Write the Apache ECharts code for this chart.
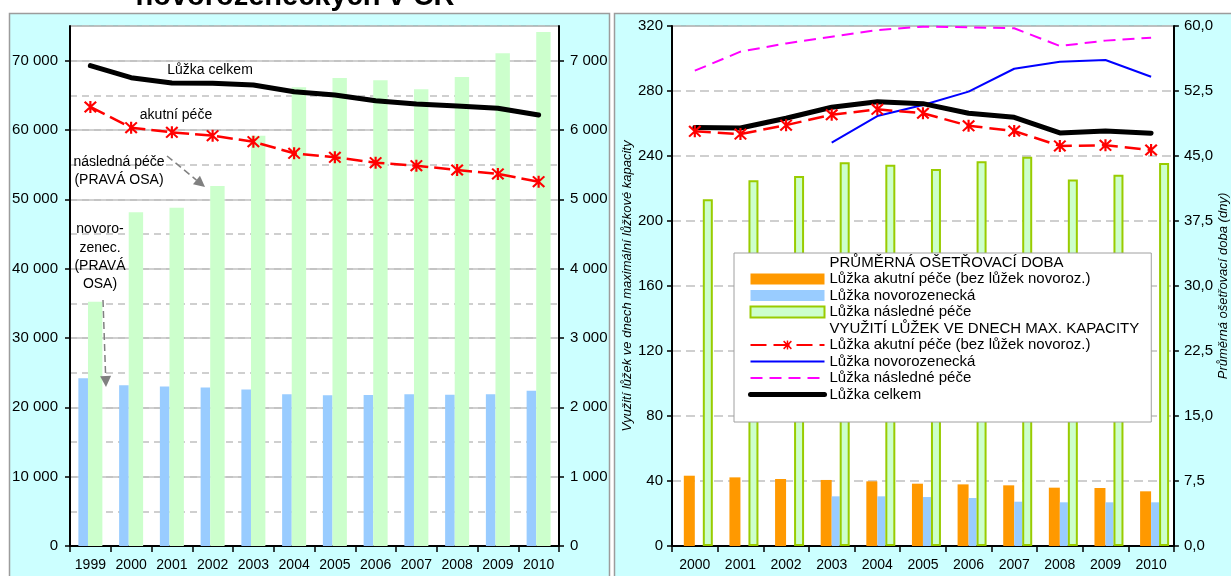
<!DOCTYPE html>
<html lang="cs">
<head>
<meta charset="utf-8">
<title>Lůžka akutní, následné péče a novorozenecká v ČR</title>
<script src="https://cdn.jsdelivr.net/npm/echarts@6/dist/echarts.min.js"></script>
<style>
  html, body { margin: 0; padding: 0; background: #ffffff; }
  #chart { width: 1231px; height: 576px; }
</style>
</head>
<body>
<div id="chart"></div>
<script>
// ---- Left chart: number of beds 1999–2010 ----
const yearsLeft = ['1999', '2000', '2001', '2002', '2003', '2004', '2005', '2006', '2007', '2008', '2009', '2010'];
const bedsTotal = [69280, 67550, 66780, 66740, 66490, 65530, 65050, 64230, 63750, 63460, 63130, 62160];
const bedsAcute = [63320, 60330, 59670, 59180, 58310, 56640, 56060, 55290, 54850, 54230, 53660, 52540];
const bedsNewborn = [2420, 2320, 2300, 2285, 2258, 2188, 2175, 2178, 2188, 2183, 2188, 2240];
const bedsFollowUp = [3524, 4813, 4880, 5193, 5918, 6616, 6750, 6717, 6587, 6765, 7106, 7414];
const ticksLeftMain = [0, 10000, 20000, 30000, 40000, 50000, 60000, 70000];
const ticksLeftSecondary = [0, 1000, 2000, 3000, 4000, 5000, 6000, 7000];

// ---- Right chart: average length of stay and bed utilisation 2000–2010 ----
const yearsRight = ['2000', '2001', '2002', '2003', '2004', '2005', '2006', '2007', '2008', '2009', '2010'];
const losAcute = [8.11, 7.92, 7.73, 7.62, 7.46, 7.19, 7.11, 7.00, 6.73, 6.69, 6.31];
const losNewborn = [null, null, null, 5.73, 5.73, 5.65, 5.54, 5.11, 5.04, 5.04, 5.04];
const losFollowUp = [40.0, 42.2, 42.7, 44.27, 44.0, 43.5, 44.4, 44.9, 42.3, 42.85, 44.2];
const useAcute = [255.2, 253.5, 259.0, 265.4, 268.7, 266.3, 258.6, 255.4, 246.2, 246.6, 243.7];
const useNewborn = [null, null, null, 248.2, 264.6, 271.4, 279.6, 293.7, 298.0, 299.1, 288.8];
const useFollowUp = [292.5, 304.2, 309.3, 313.4, 317.5, 319.6, 319.2, 318.6, 307.7, 311.0, 312.8];
const useTotal = [257.6, 257.2, 263.2, 270.0, 273.4, 272.2, 266.3, 263.8, 254.2, 255.4, 254.0];

// Legend texts of the right chart
const headingLos = 'PRŮMĚRNÁ OŠETŘOVACÍ DOBA';
const headingUse = 'VYUŽITÍ LŮŽEK VE DNECH MAX. KAPACITY';
const nameAcute = 'Lůžka akutní péče (bez lůžek novoroz.)';
const nameNewborn = 'Lůžka novorozenecká';
const nameFollowUp = 'Lůžka následné péče';
const nameTotal = 'Lůžka celkem';
// line series reuse the bar names; a zero-width space keeps them distinct for the legend
const ZW = '\u200b';

const FONT = '"Liberation Sans", Arial, sans-serif';
const GRID_COLOR = '#c0c0c0';

// asterisk marker (vertical bar + two diagonals)
const STAR = 'path://M10 0H14V24H10Z M0 2.8L2.8 0L24 21.2L21.2 24Z M21.2 0L24 2.8L2.8 24L0 21.2Z';

const spaced = v => String(v).replace(/\B(?=(\d{3})+(?!\d))/g, ' ');
const comma1 = v => v.toFixed(1).replace('.', ',');

const axisLineBlack = { show: true, lineStyle: { color: '#000', width: 2 } };
const labelStyle = { color: '#000', fontSize: 15, fontFamily: FONT };

// dashed arrow used by the annotations of the left chart
function arrow(x1, y1, x2, y2) {
  const dx = x2 - x1, dy = y2 - y1, len = Math.hypot(dx, dy);
  const ux = dx / len, uy = dy / len, head = 11, half = 5.5;
  const bx = x2 - ux * head, by = y2 - uy * head;
  return [
    { type: 'line', z: 50, shape: { x1, y1, x2: bx, y2: by },
      style: { stroke: '#808080', lineWidth: 1.5, lineDash: [7, 4] } },
    { type: 'polygon', z: 50,
      shape: { points: [[x2, y2], [bx - uy * half, by + ux * half], [bx + uy * half, by - ux * half]] },
      style: { fill: '#808080' } }
  ];
}

function text(str, x, y, opts) {
  return { type: 'text', z: 50, style: Object.assign({
    text: str, x, y, fill: '#000', font: '14px ' + FONT, align: 'center', verticalAlign: 'middle'
  }, opts || {}) };
}

const chart = echarts.init(document.getElementById('chart'), null, { renderer: 'canvas' });

const hiddenMarker = { opacity: 0 };

const option = {
  animation: false,
  textStyle: { fontFamily: FONT },
  graphic: [
    // panel backgrounds
    { type: 'rect', z: -10, shape: { x: 9.5, y: 13.5, width: 600, height: 600 },
      style: { fill: '#ccffff', stroke: '#9c9c9c', lineWidth: 1.5 } },
    { type: 'rect', z: -10, shape: { x: 614.5, y: 13.5, width: 620, height: 600 },
      style: { fill: '#ccffff', stroke: '#9c9c9c', lineWidth: 1.5 } },
    // title (last line of it)
    text('novorozeneckých v ČR', 295, -3, { font: 'bold 29px ' + FONT }),
    // annotations of the left chart
    text('Lůžka celkem', 210, 70),
    text('akutní péče', 176, 115),
    text('následná péče', 119, 162),
    text('(PRAVÁ OSA)', 119, 180),
    text('novoro-', 100, 229),
    text('zenec.', 100, 248),
    text('(PRAVÁ', 100, 266),
    text('OSA)', 100, 284),
    ...arrow(167, 156, 205, 187),
    ...arrow(103, 300, 106, 387)
  ],
  legend: {
    orient: 'vertical',
    left: 734, top: 253,
    padding: [2, 12, 20, 14],
    backgroundColor: '#ffffff',
    borderColor: '#a0a0a0', borderWidth: 1,
    itemWidth: 74, itemHeight: 11, itemGap: 1.5, itemTextGap: 4,
    selectedMode: false,
    textStyle: { color: '#000', fontSize: 15, fontFamily: FONT },
    formatter: n => n.replace(ZW, ''),
    data: [
      { name: headingLos, icon: 'rect', itemStyle: { color: 'rgba(0,0,0,0)', borderWidth: 0 } },
      { name: nameAcute, icon: 'rect' },
      { name: nameNewborn, icon: 'rect' },
      { name: nameFollowUp, icon: 'rect' },
      { name: headingUse, icon: 'rect', itemStyle: { color: 'rgba(0,0,0,0)', borderWidth: 0 } },
      { name: nameAcute + ZW },
      { name: nameNewborn + ZW, itemStyle: hiddenMarker },
      { name: nameFollowUp + ZW, itemStyle: hiddenMarker },
      { name: nameTotal + ZW, itemStyle: hiddenMarker, lineStyle: { width: 5, color: '#000', cap: 'round' } }
    ]
  },
  grid: [
    { left: 70, top: 26, width: 489, height: 520, show: true, backgroundColor: '#ffffff',
      borderColor: '#808080', borderWidth: 1 },
    { left: 672, top: 26, width: 506, height: 520, show: true, backgroundColor: '#ffffff',
      borderColor: '#808080', borderWidth: 1 }
  ],
  xAxis: [
    { type: 'category', gridIndex: 0, data: yearsLeft, boundaryGap: true,
      axisLine: axisLineBlack,
      axisTick: { show: true, length: 6, lineStyle: { color: '#000', width: 1.5 } },
      axisLabel: { color: '#000', fontSize: 14, fontFamily: FONT, margin: 12, interval: 0 } },
    { type: 'category', gridIndex: 1, data: yearsRight, boundaryGap: true,
      axisLine: axisLineBlack,
      axisTick: { show: true, length: 6, lineStyle: { color: '#000', width: 1.5 } },
      axisLabel: { color: '#000', fontSize: 14, fontFamily: FONT, margin: 12, interval: 0 } }
  ],
  yAxis: [
    // 0: left chart, beds (left scale)
    { type: 'value', gridIndex: 0, position: 'left', min: 0, max: 75000, interval: 10000,
      axisLine: axisLineBlack,
      axisTick: { show: true, length: 5, lineStyle: { color: '#000', width: 1.5 }, customValues: ticksLeftMain },
      axisLabel: Object.assign({ margin: 12, formatter: spaced, customValues: ticksLeftMain }, labelStyle),
      splitLine: { show: true, lineStyle: { color: GRID_COLOR, width: 1.5 } } },
    // 1: left chart, right scale
    { type: 'value', gridIndex: 0, position: 'right', min: 0, max: 7500, interval: 1000,
      axisLine: axisLineBlack,
      axisTick: { show: true, length: 5, lineStyle: { color: '#000', width: 1.5 }, customValues: ticksLeftSecondary },
      axisLabel: Object.assign({ margin: 11, formatter: spaced, customValues: ticksLeftSecondary }, labelStyle),
      splitLine: { show: false } },
    // 2: left chart, dashed half-step gridlines
    { type: 'value', gridIndex: 0, position: 'left', min: 0, max: 75000, interval: 5000,
      axisLine: { show: false }, axisTick: { show: false }, axisLabel: { show: false },
      splitLine: { show: true, lineStyle: { color: GRID_COLOR, width: 1.5, type: [7, 5] } } },
    // 3: right chart, utilisation
    { type: 'value', gridIndex: 1, position: 'left', min: 0, max: 320, interval: 40,
      name: 'Využití lůžek ve dnech maximální lůžkové kapacity',
      nameLocation: 'middle', nameRotate: 90, nameGap: 36,
      nameTextStyle: { color: '#000', fontSize: 13, fontStyle: 'italic', fontFamily: FONT },
      axisLine: axisLineBlack,
      axisTick: { show: true, length: 5, lineStyle: { color: '#000', width: 1.5 } },
      axisLabel: Object.assign({ margin: 9 }, labelStyle),
      splitLine: { show: true, lineStyle: { color: GRID_COLOR, width: 1.5, type: [9, 5] } } },
    // 4: right chart, average length of stay
    { type: 'value', gridIndex: 1, position: 'right', min: 0, max: 60, interval: 7.5,
      name: 'Průměrná ošetřovací doba (dny)',
      nameLocation: 'middle', nameRotate: 90, nameGap: 40,
      nameTextStyle: { color: '#000', fontSize: 13, fontStyle: 'italic', fontFamily: FONT },
      axisLine: axisLineBlack,
      axisTick: { show: true, length: 5, lineStyle: { color: '#000', width: 1.5 } },
      axisLabel: Object.assign({ margin: 10, formatter: comma1 }, labelStyle),
      splitLine: { show: false } }
  ],
  series: [
    // ---- left chart ----
    { type: 'bar', name: 'novorozenecká lůžka', xAxisIndex: 0, yAxisIndex: 1,
      data: bedsNewborn, barWidth: 9.6, barGap: '0%',
      itemStyle: { color: '#99ccff' } },
    { type: 'bar', name: 'lůžka následné péče', xAxisIndex: 0, yAxisIndex: 1,
      data: bedsFollowUp, barWidth: 14.4, barGap: '0%',
      itemStyle: { color: '#ccffcc' } },
    { type: 'line', name: 'lůžka celkem', xAxisIndex: 0, yAxisIndex: 0,
      data: bedsTotal, symbol: 'none', z: 4,
      lineStyle: { color: '#000', width: 5, cap: 'round', join: 'round' } },
    { type: 'line', name: 'lůžka akutní péče', xAxisIndex: 0, yAxisIndex: 0,
      data: bedsAcute, symbol: STAR, symbolSize: [13, 12], z: 5,
      itemStyle: { color: '#ff0000', borderWidth: 0 },
      lineStyle: { color: '#ff0000', width: 2.5, type: [16, 6] } },

    // ---- right chart ----
    // empty leading slot of each bar cluster
    { type: 'bar', name: 'slot', xAxisIndex: 1, yAxisIndex: 4, data: [], barWidth: 7, barGap: '0%' },
    { type: 'line', name: headingLos, xAxisIndex: 1, yAxisIndex: 3, data: [], symbol: 'none',
      itemStyle: { color: 'rgba(0,0,0,0)' }, lineStyle: { width: 0, color: 'rgba(0,0,0,0)' } },
    { type: 'bar', name: nameAcute, xAxisIndex: 1, yAxisIndex: 4,
      data: losAcute, barWidth: 11, barGap: '0%',
      itemStyle: { color: '#ff9900' } },
    { type: 'bar', name: nameNewborn, xAxisIndex: 1, yAxisIndex: 4,
      data: losNewborn, barWidth: 8, barGap: '0%',
      itemStyle: { color: '#99ccff' } },
    { type: 'bar', name: nameFollowUp, xAxisIndex: 1, yAxisIndex: 4,
      data: losFollowUp, barWidth: 10, barGap: '0%',
      itemStyle: { color: '#ccffcc', borderColor: '#99cc00', borderWidth: 2 } },
    { type: 'line', name: headingUse, xAxisIndex: 1, yAxisIndex: 3, data: [], symbol: 'none',
      itemStyle: { color: 'rgba(0,0,0,0)' }, lineStyle: { width: 0, color: 'rgba(0,0,0,0)' } },
    { type: 'line', name: nameAcute + ZW, xAxisIndex: 1, yAxisIndex: 3,
      data: useAcute, symbol: STAR, symbolSize: [13, 12], z: 5,
      itemStyle: { color: '#ff0000', borderWidth: 0 },
      lineStyle: { color: '#ff0000', width: 2.5, type: [16, 7] } },
    { type: 'line', name: nameNewborn + ZW, xAxisIndex: 1, yAxisIndex: 3,
      data: useNewborn, symbol: 'none', z: 4,
      itemStyle: { color: '#0000ff' },
      lineStyle: { color: '#0000ff', width: 2 } },
    { type: 'line', name: nameFollowUp + ZW, xAxisIndex: 1, yAxisIndex: 3,
      data: useFollowUp, symbol: 'none', z: 4,
      itemStyle: { color: '#ff00ff' },
      lineStyle: { color: '#ff00ff', width: 2, type: [12, 7] } },
    { type: 'line', name: nameTotal + ZW, xAxisIndex: 1, yAxisIndex: 3,
      data: useTotal, symbol: 'none', z: 4,
      itemStyle: { color: '#000' },
      lineStyle: { color: '#000', width: 5, cap: 'round', join: 'round' } }
  ]
};

chart.setOption(option);
</script>
</body>
</html>
